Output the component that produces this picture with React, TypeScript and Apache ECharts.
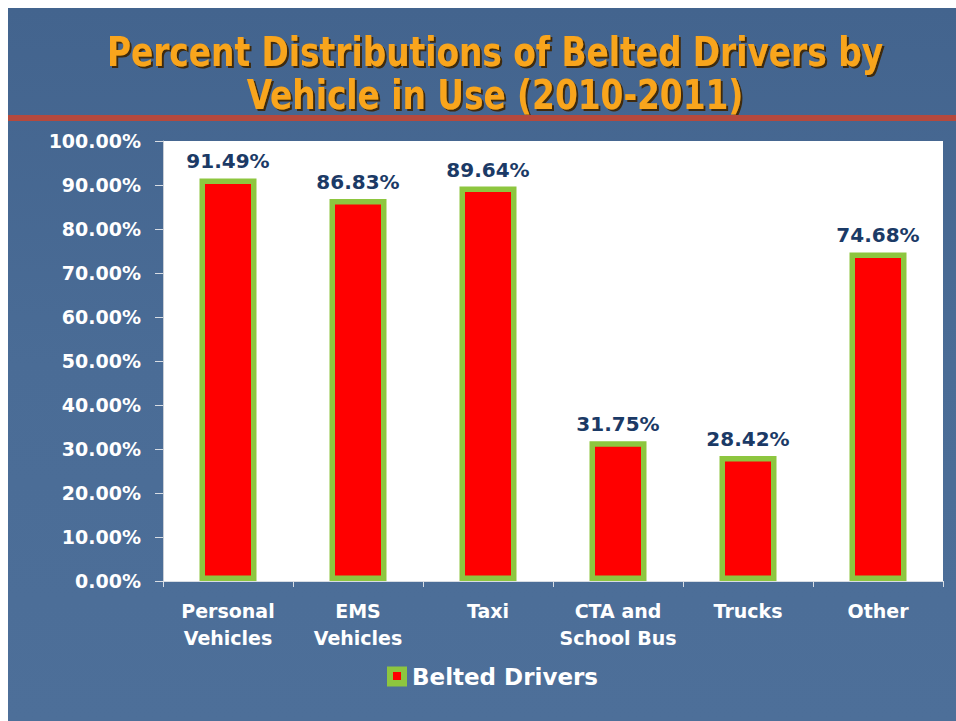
import React, { useEffect, useRef } from "react";
import * as echarts from "echarts";

const categories = ["Personal\nVehicles", "EMS\nVehicles", "Taxi", "CTA and\nSchool Bus", "Trucks", "Other"];
const beltedDrivers = [91.49, 86.83, 89.64, 31.75, 28.42, 74.68];
const seriesName = "Belted Drivers";
const titleLines = ["Percent Distributions of Belted Drivers by", "Vehicle in Use (2010-2011)"];

const FONT = "'DejaVu Sans', Verdana, sans-serif";

export default function App() {
  const ref = useRef<HTMLDivElement>(null);
  useEffect(() => {
    if (!ref.current) return;
    const chart = echarts.init(ref.current, null, { renderer: "svg" });
    chart.setOption({
      animation: false,
      backgroundColor: {
        type: "linear", x: 0, y: 0, x2: 0, y2: 1,
        colorStops: [
          { offset: 0, color: "#43648e" },
          { offset: 0.5, color: "#4a6c96" },
          { offset: 1, color: "#4d6f99" },
        ],
      },
      graphic: [
        {
          type: "text",
          x: 487,
          y: 22,
          scaleX: 0.912,
          style: {
            text: titleLines.join("\n"),
            fontSize: 40,
            fontWeight: "bold",
            fontFamily: "'DejaVu Sans Condensed', 'DejaVu Sans', sans-serif",
            fill: "#F9A51C",
            align: "center",
            verticalAlign: "top",
            lineHeight: 43,
            textShadowColor: "rgba(60,35,0,0.9)",
            textShadowOffsetX: 2,
            textShadowOffsetY: 2,
            textShadowBlur: 1,
          },
        },
        {
          type: "rect",
          shape: { x: 0, y: 107, width: 948, height: 6 },
          style: { fill: "#B5493D" },
        },
        {
          type: "rect",
          z: 100,
          shape: { x: 385, y: 664, width: 8, height: 8 },
          style: { fill: "#FF0000" },
        },
      ],
      grid: {
        left: 155,
        right: 13,
        top: 133,
        bottom: 140,
        show: true,
        backgroundColor: "#ffffff",
        borderWidth: 0,
      },
      legend: {
        data: [seriesName],
        left: 379,
        top: 657,
        padding: 0,
        itemWidth: 20,
        itemHeight: 20,
        icon: "rect",
        itemStyle: { color: "#8DC63F", borderWidth: 0 },
        textStyle: { color: "#ffffff", fontSize: 23, fontWeight: "bold", fontFamily: FONT },
      },
      xAxis: {
        type: "category",
        data: categories,
        axisLine: { show: true, lineStyle: { color: "#d8dde4", width: 1 } },
        axisTick: { show: true, length: 6, lineStyle: { color: "#d8dde4" } },
        axisLabel: {
          color: "#ffffff",
          fontSize: 19,
          fontWeight: "bold",
          fontFamily: FONT,
          lineHeight: 27,
          margin: 16,
          interval: 0,
        },
      },
      yAxis: {
        type: "value",
        min: 0,
        max: 100,
        interval: 10,
        splitLine: { show: false },
        axisLine: { show: true, lineStyle: { color: "#c8ced6", width: 1 } },
        axisTick: { show: true, length: 8, inside: false, lineStyle: { color: "#d8dde4" } },
        axisLabel: {
          color: "#ffffff",
          fontSize: 19,
          fontWeight: "bold",
          fontFamily: FONT,
          margin: 22,
          formatter: (v: number) => v.toFixed(2) + "%",
        },
      },
      series: [
        {
          name: seriesName,
          type: "bar",
          data: beltedDrivers,
          barWidth: 57,
          itemStyle: { color: "#FF0000", borderColor: "#8DC63F", borderWidth: 5.5 },
          label: {
            show: true,
            position: "top",
            distance: 7,
            color: "#1B3A66",
            fontSize: 20,
            fontWeight: "bold",
            fontFamily: FONT,
            formatter: (p: any) => p.value.toFixed(2) + "%",
          },
        },
      ],
    });
    return () => chart.dispose();
  }, []);
  return (
    <div
      ref={ref}
      style={{ position: "fixed", left: 8, top: 8, width: 948, height: 713 }}
    />
  );
}
